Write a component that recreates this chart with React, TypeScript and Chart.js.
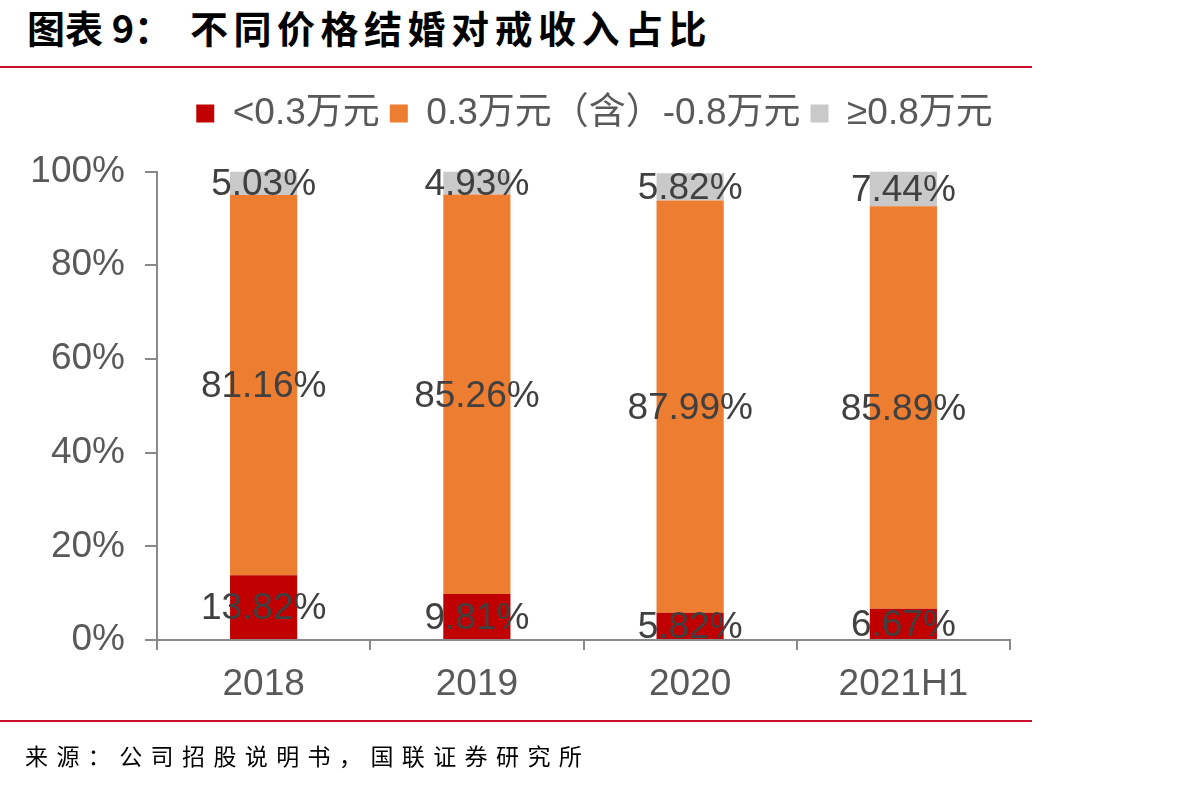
import React, { useEffect, useRef } from "react";
import { Chart, registerables } from "chart.js";

Chart.register(...registerables);

const categories = ["2018", "2019", "2020", "2021H1"];
const seriesNames = ["<0.3万元", "0.3万元（含）-0.8万元", "≥0.8万元"];
const lowValues = [13.82, 9.81, 5.82, 6.67];
const midValues = [81.16, 85.26, 87.99, 85.89];
const highValues = [5.03, 4.93, 5.82, 7.44];
const yTicks = [0, 20, 40, 60, 80, 100];

const FONT = "'Liberation Sans', Arial, 'Noto Sans CJK SC', sans-serif";

const labelPlugin = {
  id: "segLabels",
  afterDatasetsDraw(chart: any) {
    const ctx = chart.ctx;
    ctx.save();
    ctx.font = `37px ${FONT}`;
    ctx.fillStyle = "#404040";
    ctx.textAlign = "center";
    ctx.textBaseline = "middle";
    chart.data.datasets.forEach((ds: any, di: number) => {
      const meta = chart.getDatasetMeta(di);
      meta.data.forEach((el: any, i: number) => {
        const p = el.getProps(["x", "y", "base"], true);
        const cy = (p.y + p.base) / 2;
        ctx.fillText(Number(ds.data[i]).toFixed(2) + "%", p.x, cy + 2);
      });
    });
    ctx.restore();
  },
};

export default function App() {
  const ref = useRef<HTMLCanvasElement>(null);
  useEffect(() => {
    const chart = new Chart(ref.current!, {
      type: "bar",
      data: {
        labels: categories,
        datasets: [
          { label: seriesNames[0], data: lowValues, backgroundColor: "#C00000" },
          { label: seriesNames[1], data: midValues, backgroundColor: "#ED7D31" },
          { label: seriesNames[2], data: highValues, backgroundColor: "#C9C9C9" },
        ],
      },
      options: {
        responsive: false,
        animation: false,
        layout: { padding: { top: 85, left: 0, right: 0, bottom: 77 } },
        datasets: { bar: { barPercentage: 0.315, categoryPercentage: 1 } } as any,
        plugins: {
          legend: {
            display: true,
            position: "top",
            labels: {
              boxWidth: 18,
              boxHeight: 18,
              padding: 10,
              color: "#595959",
              font: { size: 37, family: FONT },
            },
          },
          subtitle: {
            display: true,
            text: "",
            position: "top",
            weight: 500,
            font: { size: 10, lineHeight: 1.2 },
            padding: { top: 17.5, bottom: 0 },
          } as any,
          tooltip: { enabled: false },
        },
        scales: {
          x: {
            stacked: true,
            offset: true,
            grid: {
              display: true,
              drawOnChartArea: false,
              offset: true,
              tickLength: 10,
              color: "#898989",
              lineWidth: 2,
            },
            border: { color: "#898989", width: 2 },
            ticks: {
              color: "#595959",
              padding: 13,
              font: { size: 37, family: FONT },
            },
            afterFit: (s: any) => {
              s.height = 70;
            },
          },
          y: {
            stacked: true,
            min: 0,
            max: 100,
            afterBuildTicks: (s: any) => {
              s.ticks = yTicks.map((v) => ({ value: v }));
            },
            grid: {
              display: true,
              drawOnChartArea: false,
              tickLength: 12,
              color: "#898989",
              lineWidth: 2,
            },
            border: { color: "#898989", width: 2 },
            ticks: {
              color: "#595959",
              padding: 20,
              font: { size: 37, family: FONT },
              callback: (v: any) => v + "%",
            },
            afterFit: (s: any) => {
              s.width = 157;
            },
          },
          yRightSpace: {
            type: "linear",
            position: "right",
            display: true,
            grid: { display: false },
            border: { display: false },
            ticks: { display: false },
            afterFit: (s: any) => {
              s.width = 179;
            },
          } as any,
        },
      },
      plugins: [labelPlugin],
    });
    return () => chart.destroy();
  }, []);

  return (
    <div style={{ position: "fixed", left: 0, top: 0, width: 1189, height: 787, background: "#fff", overflow: "hidden" }}>
      <div
        style={{
          position: "absolute",
          left: 27,
          top: 3,
          fontFamily: "'Noto Sans CJK SC', sans-serif",
          fontWeight: 700,
          fontSize: 38,
          lineHeight: "48px",
          color: "#000",
          whiteSpace: "nowrap",
        }}
      >
        <span>图表 9：</span>
        <span style={{ marginLeft: 18, letterSpacing: 5.5 }}>不同价格结婚对戒收入占比</span>
      </div>
      <div style={{ position: "absolute", left: 0, top: 66, width: 1032, height: 2, background: "#C8102E" }} />
      <canvas ref={ref} width={1189} height={787} style={{ position: "absolute", left: 0, top: 0 }} />
      <div style={{ position: "absolute", left: 0, top: 720, width: 1032, height: 2, background: "#C8102E" }} />
      <div
        style={{
          position: "absolute",
          left: 25,
          top: 738,
          fontFamily: "'Noto Sans CJK SC', serif",
          fontSize: 23,
          lineHeight: "34px",
          letterSpacing: 8.4,
          color: "#000",
          whiteSpace: "nowrap",
        }}
      >
        来源：公司招股说明书，国联证券研究所
      </div>
    </div>
  );
}
